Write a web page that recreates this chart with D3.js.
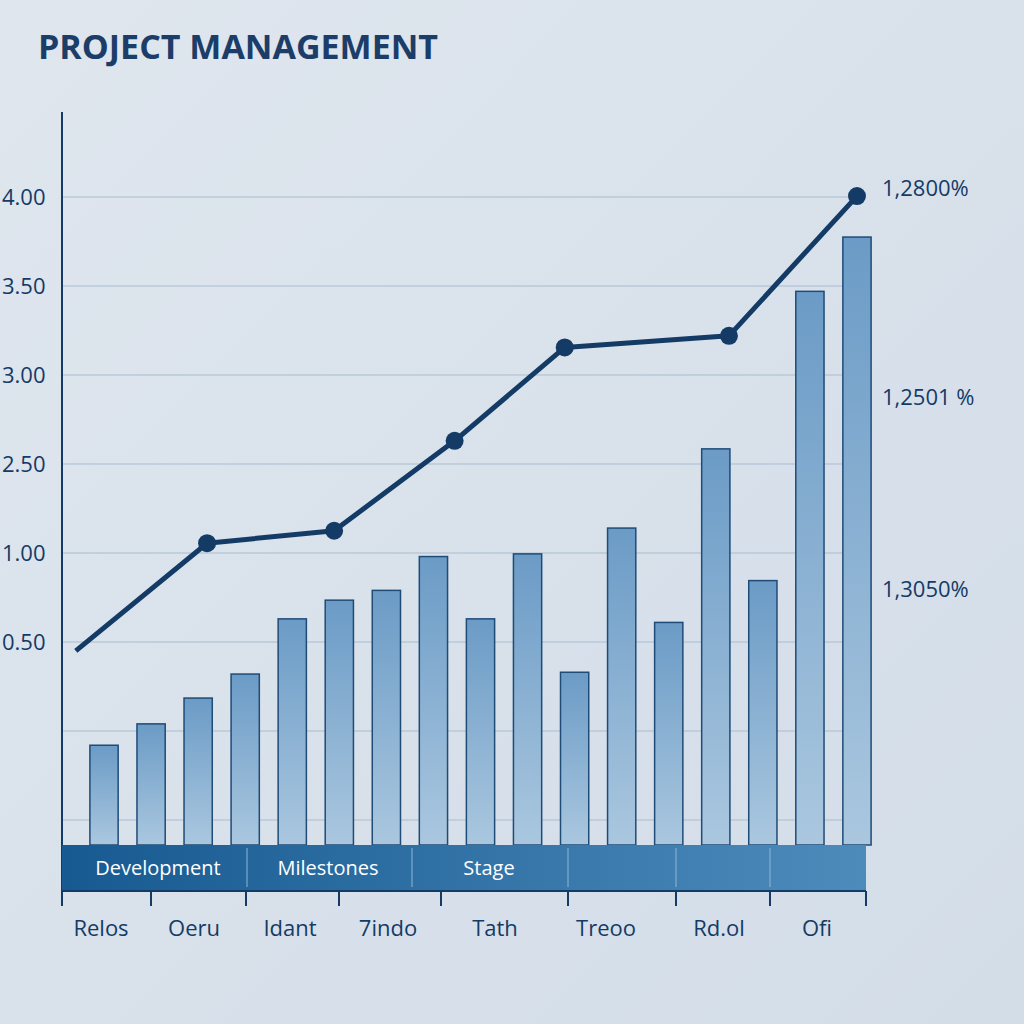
<!DOCTYPE html><html><head><meta charset="utf-8">
<script src="https://cdn.jsdelivr.net/npm/d3@7"></script>
<style>body{margin:0}svg{display:block}</style></head><body>
<svg id="c" width="1024" height="1024"></svg>
<script>
const title = "PROJECT MANAGEMENT";
const yTickLabels = ["", "", "0.50", "1.00", "2.50", "3.00", "3.50", "4.00"];
const yTickLevels = [1, 2, 3, 4, 5, 6, 7, 8];
const barValues = [1.84,2.08,2.37,2.64,3.26,3.47,3.58,3.96,3.26,3.99,2.66,4.28,3.22,5.17,3.69,6.94,7.55];
const lineX = [-0.6,2.19,4.89,7.45,9.79,13.28,16];
const lineY = [2.90,4.11,4.25,5.26,6.31,6.44,8.01];
const stageLabels = ["Development","Milestones","Stage"];
const stagePos = [158,328,489];
const stageDividers = [247,412,568,676,770];
const xLabels = ["Relos","Oeru","Idant","7indo","Tath","Treoo","Rd.ol","Ofi"];
const xLabelPos = [101,194,290,388,495,606,719,817];
const xTickPos = [62,151,246,339,441,568,676,770,866];
const rightLabels = ["1,2800%","1,2501 %","1,3050%"];
const rightLabelLevels = [8.1,5.75,3.6];

const svg = d3.select("#c");
const font = "'Open Sans', 'DejaVu Sans', sans-serif";
const dark = "#143b66";
const defs = svg.append("defs");
const bg = defs.append("linearGradient").attr("id","bg").attr("x1",0).attr("y1",0).attr("x2",1).attr("y2",1);
bg.append("stop").attr("offset","0").attr("stop-color","#dfe6ee");
bg.append("stop").attr("offset","1").attr("stop-color","#d3dde8");
const bar = defs.append("linearGradient").attr("id","bar").attr("x1",0).attr("y1",0).attr("x2",0).attr("y2",1);
bar.append("stop").attr("offset","0").attr("stop-color","#6b9bc6");
bar.append("stop").attr("offset","1").attr("stop-color","#aac7df");
const band = defs.append("linearGradient").attr("id","band").attr("x1",0).attr("y1",0).attr("x2",1).attr("y2",0);
band.append("stop").attr("offset","0").attr("stop-color","#175a91");
band.append("stop").attr("offset","1").attr("stop-color","#4d8bbb");
svg.append("rect").attr("width",1024).attr("height",1024).attr("fill","url(#bg)");

const y = d3.scaleLinear().domain([0,9]).range([909,108]);
const xb = d3.scaleBand().domain(d3.range(barValues.length)).range([80.5,880.5]).paddingInner(0.4).paddingOuter(0.2);
const xl = d3.scaleLinear().domain([0,16]).range([xb(0)+xb.bandwidth()/2, xb(16)+xb.bandwidth()/2]);
const baseY = 845;

svg.append("g").selectAll("line").data(yTickLevels).join("line")
  .attr("x1",62).attr("x2",866).attr("y1",d=>y(d)).attr("y2",d=>y(d))
  .attr("stroke","#a9bccf").attr("stroke-width",1);
svg.append("g").selectAll("text").data(yTickLevels).join("text")
  .attr("x",2).attr("y",d=>y(d)+8).text((d,i)=>yTickLabels[i])
  .attr("font-family",font).attr("font-size",22).attr("fill",dark);
svg.append("line").attr("x1",62).attr("x2",62).attr("y1",112).attr("y2",905).attr("stroke",dark).attr("stroke-width",2);

svg.append("g").selectAll("rect").data(barValues).join("rect")
  .attr("x",(d,i)=>xb(i)).attr("width",xb.bandwidth())
  .attr("y",d=>y(d)).attr("height",d=>baseY-y(d))
  .attr("fill","url(#bar)").attr("stroke","#1f4b77").attr("stroke-width",1.5);

svg.append("rect").attr("x",62).attr("y",baseY).attr("width",804).attr("height",45).attr("fill","url(#band)");
svg.append("g").selectAll("line").data(stageDividers).join("line")
  .attr("x1",d=>d).attr("x2",d=>d).attr("y1",baseY+3).attr("y2",baseY+42).attr("stroke","#8fb6d6").attr("stroke-width",1);
svg.append("g").selectAll("text").data(stageLabels).join("text")
  .attr("x",(d,i)=>stagePos[i]).attr("y",baseY+30).attr("text-anchor","middle").text(d=>d)
  .attr("font-family",font).attr("font-size",20).attr("fill","#ffffff");
svg.append("line").attr("x1",62).attr("x2",866).attr("y1",891).attr("y2",891).attr("stroke",dark).attr("stroke-width",2);
svg.append("g").selectAll("line").data(xTickPos).join("line")
  .attr("x1",d=>d).attr("x2",d=>d).attr("y1",891).attr("y2",906).attr("stroke",dark).attr("stroke-width",2);
svg.append("g").selectAll("text").data(xLabels).join("text")
  .attr("x",(d,i)=>xLabelPos[i]).attr("y",936).attr("text-anchor","middle").text(d=>d)
  .attr("font-family",font).attr("font-size",22).attr("fill",dark);

const pts = lineX.map((v,i)=>[xl(v), y(lineY[i])]);
svg.append("path").attr("d",d3.line()(pts)).attr("fill","none").attr("stroke",dark).attr("stroke-width",5).attr("stroke-linejoin","round");
svg.append("g").selectAll("circle").data(pts.slice(1)).join("circle")
  .attr("cx",d=>d[0]).attr("cy",d=>d[1]).attr("r",9).attr("fill",dark);

svg.append("g").selectAll("text").data(rightLabels).join("text")
  .attr("x",882).attr("y",(d,i)=>y(rightLabelLevels[i])+8).text(d=>d)
  .attr("font-family",font).attr("font-size",22).attr("fill",dark);

svg.append("text").attr("x",38).attr("y",59).text(title)
  .attr("font-family",font).attr("font-weight","bold").attr("font-size",34).attr("fill","#1c3d68");
</script></body></html>
